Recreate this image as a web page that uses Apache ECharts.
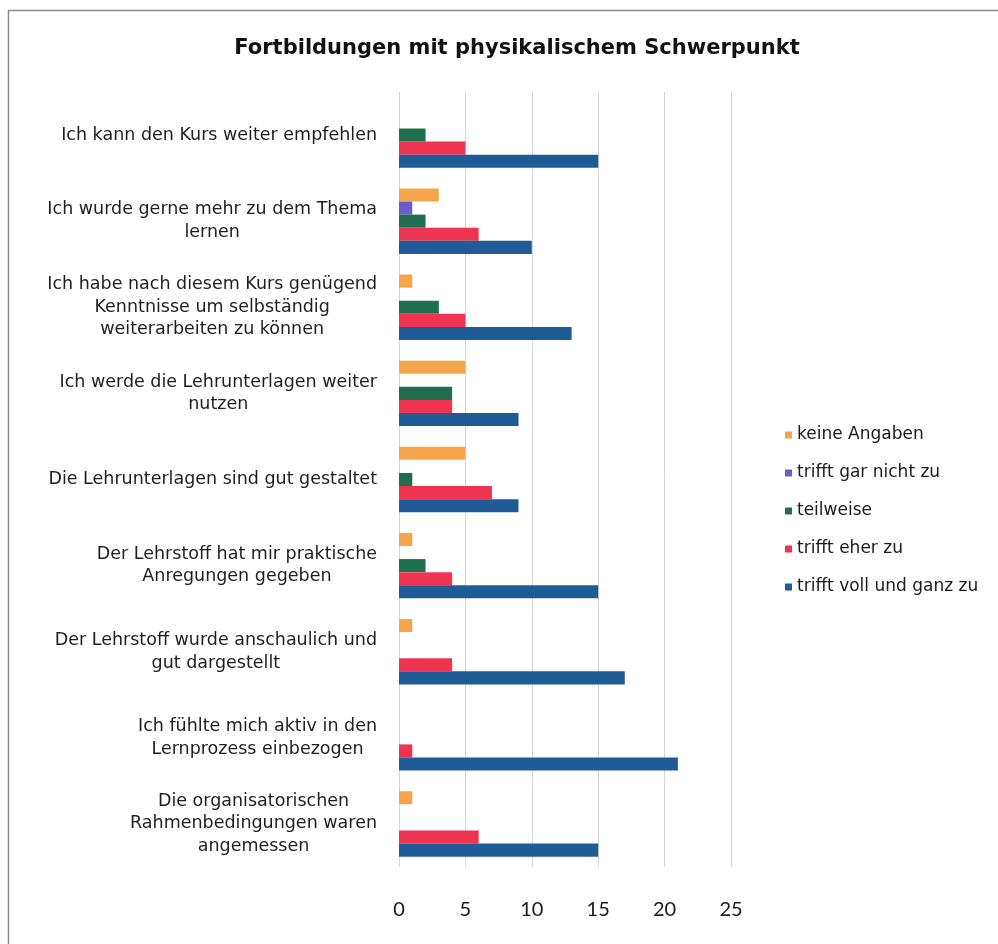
<!DOCTYPE html>
<html>
<head>
<meta charset="utf-8">
<script src="https://cdn.jsdelivr.net/npm/echarts@6/dist/echarts.min.js"></script>
<style>
  html, body { margin: 0; padding: 0; background: #ffffff; }
  #chart { width: 998px; height: 944px; }
</style>
</head>
<body>
<div id="chart"></div>
<script>
// Survey statements, listed from top to bottom
const categories = [
  'Ich kann den Kurs weiter empfehlen',
  'Ich wurde gerne mehr zu dem Thema\nlernen',
  'Ich habe nach diesem Kurs genügend\nKenntnisse um selbständig\nweiterarbeiten zu können',
  'Ich werde die Lehrunterlagen weiter\nnutzen',
  'Die Lehrunterlagen sind gut gestaltet',
  'Der Lehrstoff hat mir praktische\nAnregungen gegeben',
  'Der Lehrstoff wurde anschaulich und\ngut dargestellt',
  'Ich fühlte mich aktiv in den\nLernprozess einbezogen',
  'Die organisatorischen\nRahmenbedingungen waren\nangemessen'
];

const seriesNames = [
  'keine Angaben',
  'trifft gar nicht zu',
  'teilweise',
  'trifft eher zu',
  'trifft voll und ganz zu'
];

// Number of answers per statement
const keineAngaben   = [0, 3, 1, 5, 5, 1, 1, 0, 1];
const triffGarNicht  = [0, 1, 0, 0, 0, 0, 0, 0, 0];
const teilweise      = [2, 2, 3, 4, 1, 2, 0, 0, 0];
const trifftEherZu   = [5, 6, 5, 4, 7, 4, 4, 1, 6];
const trifftVoll     = [15, 10, 13, 9, 9, 15, 17, 21, 15];

const xTicks = [0, 5, 10, 15, 20, 25];

const seriesData = [keineAngaben, triffGarNicht, teilweise, trifftEherZu, trifftVoll];
const colors = ['#F7A54B', '#6A5BCE', '#1F6E4F', '#EE3450', '#1F5B97'];

const chart = echarts.init(document.getElementById('chart'), null, { renderer: 'canvas' });

const labelFont = 'DejaVu Sans';

const option = {
  backgroundColor: '#ffffff',
  animation: false,
  title: {
    text: 'Fortbildungen mit physikalischem Schwerpunkt',
    left: 512,
    top: 33,
    textAlign: 'center',
    textStyle: {
      fontFamily: labelFont,
      fontWeight: 'bold',
      fontSize: 21,
      color: '#111111'
    }
  },
  legend: {
    orient: 'vertical',
    left: 780,
    top: 421,
    itemWidth: 7,
    itemHeight: 7,
    itemGap: 20,
    icon: 'rect',
    data: seriesNames,
    textStyle: {
      fontFamily: labelFont,
      fontSize: 17,
      color: '#1a1a1a',
      lineHeight: 18
    }
  },
  grid: {
    left: 399,
    top: 92,
    width: 332,
    height: 775,
    containLabel: false
  },
  xAxis: {
    type: 'value',
    min: xTicks[0],
    max: xTicks[xTicks.length - 1],
    interval: 5,
    axisLine: { show: false },
    axisTick: { show: false },
    axisLabel: {
      margin: 33,
      fontFamily: 'Lato',
      fontSize: 20,
      color: '#1a1a1a'
    },
    splitLine: { lineStyle: { color: '#d6d6d6', width: 1 } }
  },
  yAxis: {
    type: 'category',
    inverse: true,
    data: categories,
    axisLine: { show: false },
    axisTick: { show: false },
    axisLabel: {
      margin: 22,
      align: 'right',
      formatter: function (v) {
        return v.split('\n').map(function (line) { return '{c|' + line + '}'; }).join('\n');
      },
      rich: {
        c: {
          align: 'center',
          fontFamily: labelFont,
          fontSize: 17.5,
          lineHeight: 22.5,
          color: '#1e1e1e'
        }
      }
    }
  },
  series: seriesNames.map(function (name, i) {
    return {
      name: name,
      type: 'bar',
      data: seriesData[i],
      barGap: '0%',
      barCategoryGap: '24%',
      itemStyle: { color: colors[i] }
    };
  }),
  graphic: [{
    type: 'rect',
    shape: { x: 8.5, y: 10.5, width: 1000, height: 1000 },
    style: { fill: 'none', stroke: '#8c8c8c', lineWidth: 1.5 },
    silent: true,
    z: 100
  }]
};

chart.setOption(option);
</script>
</body>
</html>
